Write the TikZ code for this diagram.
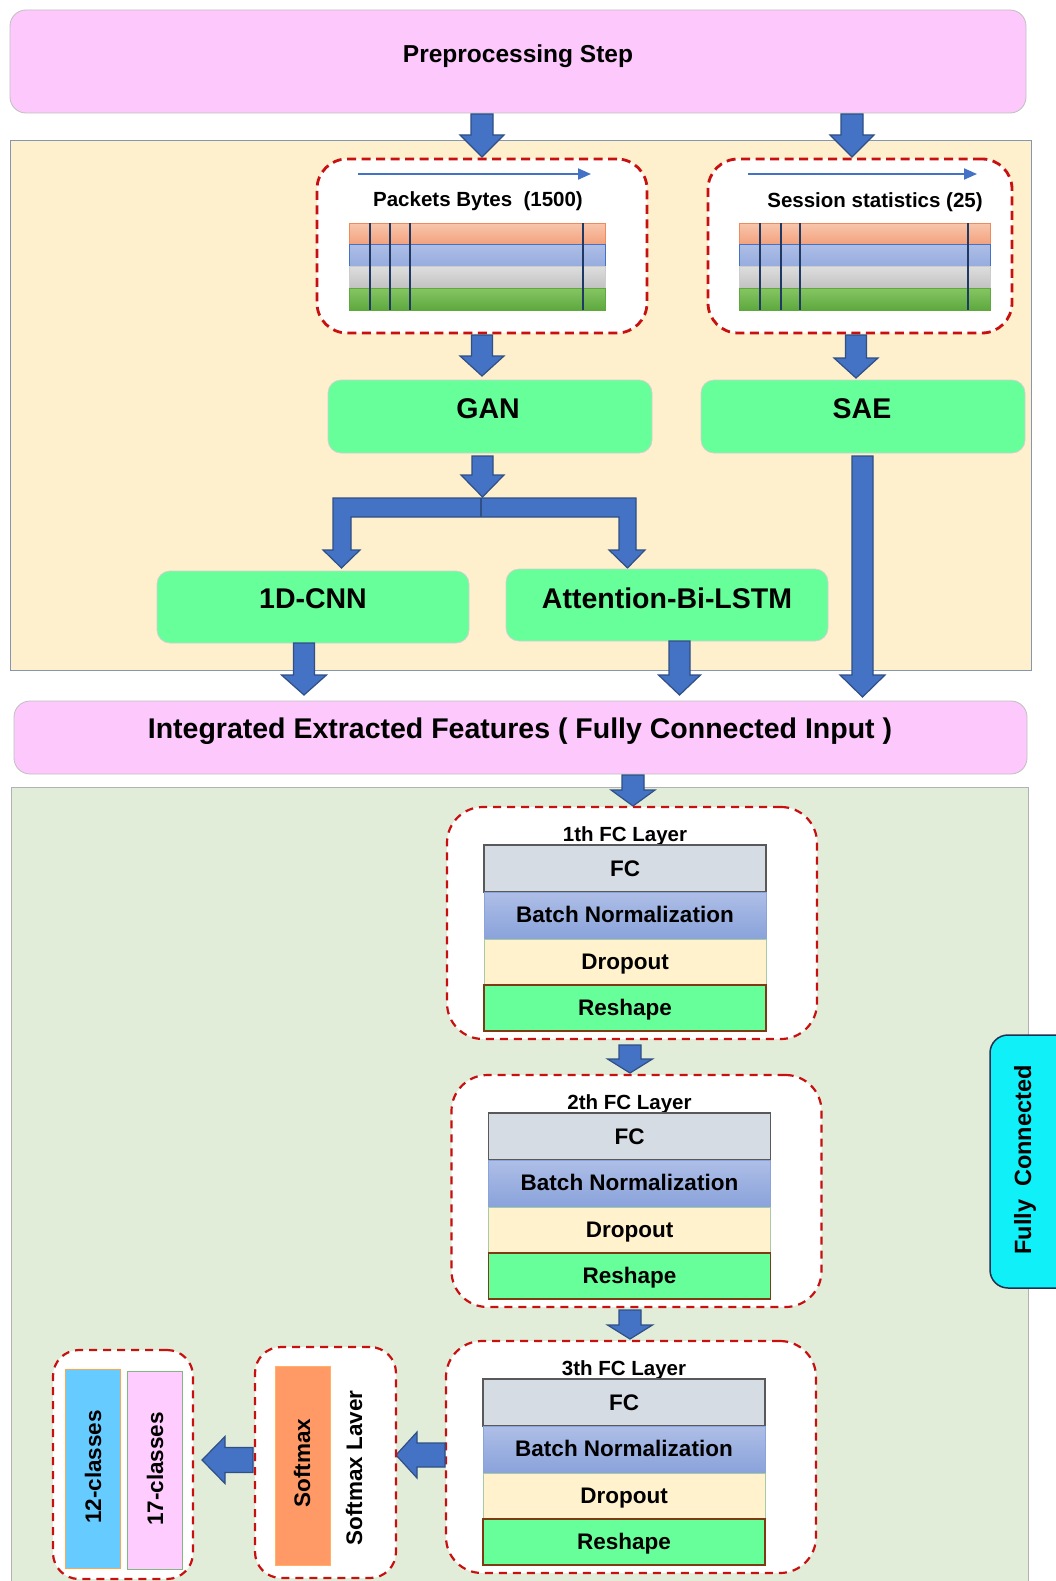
\documentclass[tikz,border=0pt]{standalone}
\usepackage{fontspec}
\setmainfont{Liberation Sans}
\usetikzlibrary{arrows.meta}

\definecolor{pinkbox}{HTML}{FDC9FD}
\definecolor{beige}{HTML}{FFF0CD}
\definecolor{paneledge}{HTML}{8496B0}
\definecolor{palegreen}{HTML}{E1EDD8}
\definecolor{mint}{HTML}{66FF99}
\definecolor{arrowblue}{HTML}{4472C4}
\definecolor{arrowedge}{HTML}{2F4F85}
\definecolor{dashred}{HTML}{C81010}
\definecolor{fcgray}{HTML}{D6DCE4}
\definecolor{bntop}{HTML}{AEBEE6}
\definecolor{bnbot}{HTML}{8AA3DB}
\definecolor{dropfill}{HTML}{FFF2CC}
\definecolor{reshapeedge}{HTML}{7F3A14}
\definecolor{cyanbox}{HTML}{10F0F8}
\definecolor{navy}{HTML}{1F3050}
\definecolor{skyblue}{HTML}{66CCFF}
\definecolor{softorange}{HTML}{FF9966}
\definecolor{classpink}{HTML}{FFCCFF}
\definecolor{bandline}{HTML}{1F3864}
\definecolor{salmontop}{HTML}{F8C6AC}
\definecolor{salmonbot}{HTML}{F2A27E}
\definecolor{salmonedge}{HTML}{EE8A5C}
\definecolor{leaftop}{HTML}{86C664}
\definecolor{leafbot}{HTML}{5EA83E}

% font sizes (1pt = one unit of the drawing grid)
\newcommand\fsTitle{\fontsize{24.5}{28}\selectfont\bfseries}
\newcommand\fsBig{\fontsize{28.5}{32}\selectfont\bfseries}
\newcommand\fsSmall{\fontsize{20.5}{24}\selectfont\bfseries}
\newcommand\fsBlock{\fontsize{22.5}{26}\selectfont\bfseries}

% block arrow pointing down: centre x, top y, tip y, shaft half width, head half width, head length
\newcommand\arrdown[6]{%
  \draw[barrow] ({#1-#4},#2) -- ({#1+#4},#2) -- ({#1+#4},{#3-#6}) -- ({#1+#5},{#3-#6})
    -- (#1,#3) -- ({#1-#5},{#3-#6}) -- ({#1-#4},{#3-#6}) -- cycle;}
% block arrow pointing left: centre y, right x, tip x, shaft half width, head half width, head length
\newcommand\arrleft[6]{%
  \draw[barrow] (#2,{#1-#4}) -- (#2,{#1+#4}) -- ({#3+#6},{#1+#4}) -- ({#3+#6},{#1+#5})
    -- (#3,#1) -- ({#3+#6},{#1-#5}) -- ({#3+#6},{#1-#4}) -- cycle;}

% colour bands of an input record: left x, right x, list of separator x positions
\newcommand\bands[3]{%
  \draw[draw=salmonedge, top color=salmontop, bottom color=salmonbot, line width=0.7pt] (#1,223) rectangle (#2,244);
  \draw[draw=arrowblue, top color=bntop, bottom color=bnbot!90!white, line width=0.9pt] (#1,244) rectangle (#2,266);
  \draw[draw=black!20, top color=black!13, bottom color=black!24, line width=0.4pt] (#1,266) rectangle (#2,288);
  \draw[draw=leafbot, top color=leaftop, bottom color=leafbot, line width=0.4pt] (#1,288) rectangle (#2,310);
  \foreach \xx in {#3} \draw[bandline, line width=1.1pt] (\xx,223) -- (\xx,310);}

% one fully connected layer: name, centre x of the blocks, top y, title
\newcommand\fclayer[4]{%
  \node[dashbox=36pt, minimum width=370pt, minimum height=232pt] (#1) at ({#2+7},{#3+116}) {};
  \node[font=\fsSmall, inner sep=0] (#1t) at (#2,{#3+29}) {#4};
  \node[blk, fill=fcgray, draw=black!65, line width=1.4pt, minimum height=47pt] (#1fc) at (#2,{#3+61.5}) {FC};
  \node[blk, top color=bntop, bottom color=bnbot, draw=bnbot, line width=0.8pt, minimum height=46pt] (#1bn) at (#2,{#3+108}) {};
  \node[font=\fsBlock, inner sep=0] (#1bnt) at (#2,{#3+107.5}) {Batch Normalization};
  \node[blk, fill=dropfill, draw=green!40!black!35, line width=0.8pt, minimum height=45pt] (#1do) at (#2,{#3+154.5}) {};
  \node[font=\fsBlock, inner sep=0] (#1dot) at (#2,{#3+157}) {Dropout};
  \node[blk, fill=mint, draw=reshapeedge, line width=1.5pt, minimum height=46pt] (#1rs) at (#2,{#3+201}) {};
  \node[font=\fsBlock, inner sep=0] (#1rst) at (#2,{#3+203}) {Reshape};}

\tikzset{
  barrow/.style={fill=arrowblue, draw=arrowedge, line width=1.2pt, line join=miter},
  pinkpanel/.style={rectangle, rounded corners=16pt, fill=pinkbox, draw=black!25, line width=0.8pt, inner sep=0},
  mintbox/.style={rectangle, rounded corners=13pt, fill=mint, draw=black!18, line width=0.8pt, inner sep=0},
  dashbox/.style={rectangle, rounded corners=#1, fill=white, draw=dashred, line width=2.2pt,
                  dash pattern=on 8pt off 6pt, inner sep=0},
  dashbox/.default=30pt,
  blk/.style={rectangle, minimum width=282pt, inner sep=0, font=\fsBlock},
  thinarrow/.style={arrowblue, line width=2pt, -{Triangle[length=13pt,width=11pt]}},
}

\begin{document}
\begin{tikzpicture}[x=1pt, y=-1pt]
\clip (0,0) rectangle (1056,1581);
\fill[white] (0,0) rectangle (1056,1581);

% ---------- preprocessing ----------
\node[pinkpanel, minimum width=1016pt, minimum height=103pt] (pre) at (518,61.5) {};
\node[font=\fsTitle, inner sep=0] (preT) at (518,56) {Preprocessing Step};

% ---------- feature extraction panel ----------
\draw[fill=beige, draw=paneledge, line width=1pt] (10,141) rectangle (1031,670);

\arrdown{482}{114}{157}{11}{22}{22}
\arrdown{852}{114}{157}{11}{22}{22}

\node[dashbox=30pt, line width=2.8pt, dash pattern=on 9pt off 5.5pt, minimum width=330pt, minimum height=174pt] (pk) at (482,246) {};
\node[dashbox=30pt, line width=2.8pt, dash pattern=on 9pt off 5.5pt, minimum width=304pt, minimum height=174pt] (ss) at (860,246) {};

\draw[thinarrow] (358,174) -- (591,174);
\node[font=\fsSmall, inner sep=0] (pkT) at (478,201) {Packets Bytes~~(1500)};
\bands{349}{605}{370,390,410,583}

\draw[thinarrow] (748,174) -- (977,174);
\node[font=\fsSmall, inner sep=0] (ssT) at (875,202.5) {Session statistics (25)};
\bands{739}{990}{760,781,800,968}

\arrdown{482}{335}{376}{10.5}{22}{20}
\arrdown{856}{335}{378}{10.5}{22}{20}

\node[mintbox, minimum width=324pt, minimum height=73pt] (gan) at (490,416.5) {};
\node[font=\fsBig, inner sep=0] (ganT) at (488,409) {GAN};
\node[mintbox, minimum width=324pt, minimum height=73pt] (sae) at (863,416.5) {};
\node[font=\fsBig, inner sep=0] (saeT) at (862,409) {SAE};

% split of the GAN output
\arrdown{482.5}{456}{497}{10.5}{21.5}{22}
\draw[barrow] (333,498) -- (636,498) -- (636,550) -- (645,550) -- (627.5,568) -- (609,550) -- (619,550)
  -- (619,517) -- (351,517) -- (351,550) -- (360,550) -- (341.5,568) -- (323,550) -- (333,550) -- cycle;
\draw[arrowedge, line width=1.2pt] (481,498) -- (481,517);

\node[mintbox, minimum width=312pt, minimum height=72pt] (cnn) at (313,607) {};
\node[font=\fsBig, inner sep=0] (cnnT) at (313,599) {1D-CNN};
\node[mintbox, minimum width=322pt, minimum height=72pt] (att) at (667,605) {};
\node[font=\fsBig, inner sep=0] (attT) at (667,598) {Attention-Bi-LSTM};

\arrdown{304}{643}{695}{10.5}{22.5}{20}
\arrdown{679.5}{641}{695}{10.5}{21}{20}
\arrdown{862.5}{456}{697}{10.5}{22.5}{22}

% ---------- fused features ----------
\node[pinkpanel, minimum width=1013pt, minimum height=73pt] (fused) at (520.5,737.5) {};
\node[font=\fsBig, inner sep=0] (fusedT) at (520,731) {Integrated Extracted Features ( Fully Connected Input )};

% ---------- classification panel ----------
\draw[fill=palegreen, draw=black!30, line width=1pt] (11,787) rectangle (1028,1600);

\arrdown{633}{775}{806}{11}{22}{16}

\fclayer{la}{625}{807}{1th FC Layer}
\arrdown{630}{1045}{1073}{11}{22.5}{14}
\fclayer{lb}{629.5}{1075}{2th FC Layer}
\arrdown{630}{1310}{1339}{11}{22.5}{14}
\fclayer{lc}{624}{1341}{3th FC Layer}

\arrleft{1455}{445}{396}{12}{23}{21}

\node[dashbox=26pt, minimum width=141pt, minimum height=231pt] (smx) at (325.5,1462.5) {};
\node[rectangle, fill=softorange, draw=orange!60, line width=0.5pt, minimum width=55pt, minimum height=199pt, inner sep=0] (smxbar) at (302.5,1465.5) {};
\node[font=\fsBlock, rotate=90, inner sep=0] (smxT) at (302,1463) {Softmax};
\node[font=\fsBlock, rotate=90, inner sep=0] (smxL) at (354,1468) {Softmax Laver};

\arrleft{1460}{253}{202}{12.5}{23.5}{23}

\node[dashbox=26pt, minimum width=140pt, minimum height=229pt] (cls) at (123,1464.5) {};
\node[rectangle, fill=skyblue, draw=orange!70, line width=0.8pt, minimum width=55pt, minimum height=199pt, inner sep=0] (c12) at (92.5,1468.5) {};
\node[font=\fsBlock, rotate=90, inner sep=0] (c12T) at (93,1467) {12-classes};
\node[rectangle, fill=classpink, draw=green!45!black!50, line width=0.8pt, minimum width=55pt, minimum height=198pt, inner sep=0] (c17) at (154.5,1470) {};
\node[font=\fsBlock, rotate=90, inner sep=0] (c17T) at (155,1469) {17-classes};

% ---------- side tab ----------
\draw[fill=cyanbox, draw=navy, line width=1.5pt, rounded corners=18pt] (990,1035) rectangle (1080,1288);
\node[font=\fontsize{23.5}{27}\selectfont\bfseries, rotate=90, inner sep=0] (fcT) at (1025,1160) {Fully~~Connected};
\end{tikzpicture}
\end{document}
